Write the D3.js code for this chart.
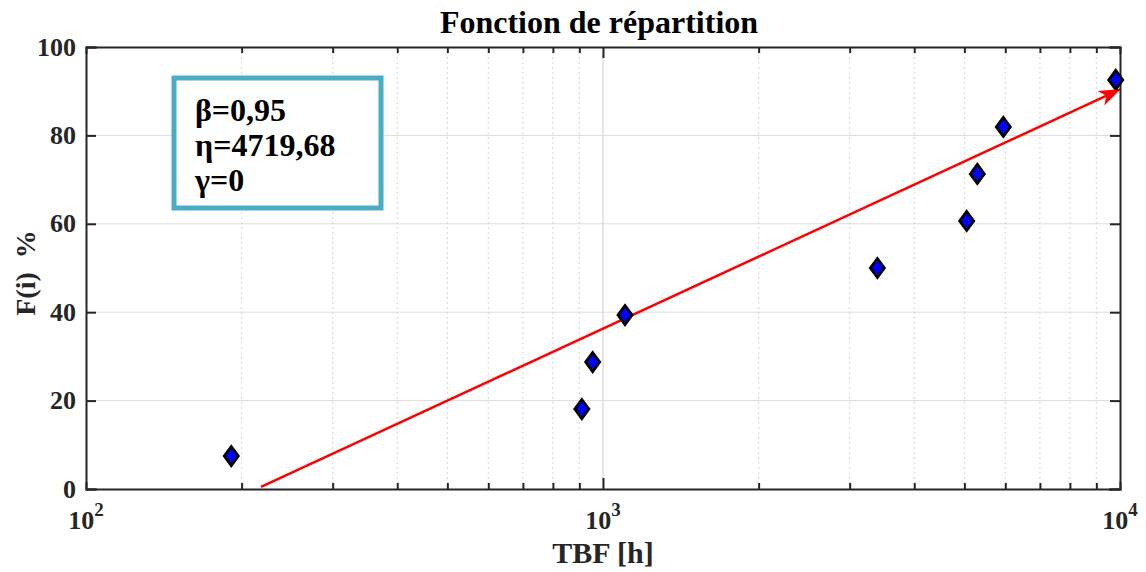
<!DOCTYPE html>
<html>
  <head>
    <meta charset="UTF-8">
    <style>
      body {
        margin: 0;
        background: white;
      }

      svg text {
        font-family: "Liberation Serif", "Times New Roman", serif;
      }

      .tick-label {
        fill: #262626;
        font-weight: bold;
        font-size: 26px;
      }

      .axis-label {
        fill: #262626;
        font-weight: bold;
        font-size: 30px;
      }

      .title {
        fill: #000;
        font-weight: bold;
        font-size: 32px;
      }

      .params text {
        fill: #000;
        font-weight: bold;
        font-size: 32px;
      }
    </style>
    <script src="https://d3js.org/d3.v7.min.js"></script>
  </head>

  <body>
    <svg id="chart"></svg>

    <script type="text/javascript">
      // TBF values [h] and F(i) in %
      let tbf = [191, 910, 955, 1103, 3394, 5052, 5297, 5948, 9811]
      let fi = [7.45, 18.09, 28.72, 39.36, 50, 60.64, 71.28, 81.91, 92.55]

      // the red arrow (start / end points)
      let fitX = [218, 10000]
      let fitY = [0.5, 90.4]

      let xDecades = [100, 1000, 10000]
      let xExponents = ['2', '3', '4']
      let yTicks = [0, 20, 40, 60, 80, 100]
      let params = ['β=0,95', 'η=4719,68', 'γ=0']

      function getChartConfig() {
        let width = 1146
        let height = 572
        let margin = { top: 47, bottom: 83, left: 86, right: 26 }
        let bodyWidth = width - margin.left - margin.right
        let bodyHeight = height - margin.top - margin.bottom

        let svg = d3.select('#chart')
          .attr('width', width)
          .attr('height', height)

        return { width, height, margin, bodyWidth, bodyHeight, svg }
      }

      function getChartScales(config) {
        let xScale = d3.scaleLog()
          .domain([100, 10000])
          .range([0, config.bodyWidth])

        let yScale = d3.scaleLinear()
          .domain([0, 100])
          .range([config.bodyHeight, 0])

        return { xScale, yScale }
      }

      function minorTicks() {
        let result = []
        for (let d = 100; d < 10000; d *= 10) {
          for (let k = 2; k <= 9; k++) result.push(k * d)
        }
        return result
      }

      function drawGrid(scales, config) {
        let g = config.svg.append('g')
          .attr('transform', `translate(${config.margin.left},${config.margin.top})`)

        g.selectAll('.minor-grid')
          .data(minorTicks())
          .enter()
          .append('line')
          .attr('x1', d => scales.xScale(d))
          .attr('x2', d => scales.xScale(d))
          .attr('y1', 0)
          .attr('y2', config.bodyHeight)
          .attr('stroke', '#d4d4d4')
          .attr('stroke-width', 1)
          .attr('stroke-dasharray', '2 3')

        g.selectAll('.major-grid')
          .data(xDecades.slice(1, -1))
          .enter()
          .append('line')
          .attr('x1', d => scales.xScale(d))
          .attr('x2', d => scales.xScale(d))
          .attr('y1', 0)
          .attr('y2', config.bodyHeight)
          .attr('stroke', '#dcdcdc')
          .attr('stroke-width', 1.5)

        g.selectAll('.y-grid')
          .data(yTicks.slice(1, -1))
          .enter()
          .append('line')
          .attr('x1', 0)
          .attr('x2', config.bodyWidth)
          .attr('y1', d => scales.yScale(d))
          .attr('y2', d => scales.yScale(d))
          .attr('stroke', '#dcdcdc')
          .attr('stroke-width', 1)
      }

      function drawAxes(scales, config) {
        let left = config.margin.left
        let top = config.margin.top
        let bottom = top + config.bodyHeight
        let right = left + config.bodyWidth

        // MATLAB style box, ticks pointing inward
        let bottomAxis = d3.axisBottom(scales.xScale)
          .tickValues(minorTicks().concat(xDecades.slice(1, -1)))
          .tickSize(-6)
          .tickFormat('')
        let gb = config.svg.append('g')
          .attr('transform', `translate(${left},${bottom})`)
          .call(bottomAxis)
        gb.selectAll('.tick line')
          .filter(d => xDecades.includes(d))
          .attr('y2', -11)

        let topAxis = d3.axisTop(scales.xScale)
          .tickValues(minorTicks().concat(xDecades.slice(1, -1)))
          .tickSize(-6)
          .tickFormat('')
        let gt = config.svg.append('g')
          .attr('transform', `translate(${left},${top})`)
          .call(topAxis)
        gt.selectAll('.tick line')
          .filter(d => xDecades.includes(d))
          .attr('y2', 11)

        let leftAxis = d3.axisLeft(scales.yScale)
          .tickValues(yTicks)
          .tickSize(-10)
          .tickFormat('')
        config.svg.append('g')
          .attr('transform', `translate(${left},${top})`)
          .call(leftAxis)

        let rightAxis = d3.axisRight(scales.yScale)
          .tickValues(yTicks)
          .tickSize(-10)
          .tickFormat('')
        config.svg.append('g')
          .attr('transform', `translate(${right},${top})`)
          .call(rightAxis)

        config.svg.selectAll('.domain, .tick line')
          .attr('stroke', '#262626')
          .attr('stroke-width', 2)
        config.svg.selectAll('.domain')
          .attr('stroke-linecap', 'square')

        // y tick labels
        config.svg.append('g')
          .selectAll('text')
          .data(yTicks)
          .enter()
          .append('text')
          .attr('class', 'tick-label')
          .attr('x', left - 10)
          .attr('y', d => top + scales.yScale(d))
          .attr('dy', '0.33em')
          .attr('text-anchor', 'end')
          .text(d => d)

        // x tick labels: 10 with superscript exponent
        let xl = config.svg.append('g')
          .selectAll('text')
          .data(xDecades)
          .enter()
          .append('text')
          .attr('class', 'tick-label')
          .attr('x', d => left + scales.xScale(d))
          .attr('y', bottom + 40)
          .attr('text-anchor', 'middle')
        xl.append('tspan').text('10')
        xl.append('tspan')
          .attr('dy', -13)
          .attr('font-size', 19)
          .text((d, i) => xExponents[i])

        config.svg.append('text')
          .attr('class', 'axis-label')
          .attr('x', left + config.bodyWidth / 2)
          .attr('y', bottom + 74)
          .attr('text-anchor', 'middle')
          .text('TBF [h]')

        config.svg.append('text')
          .attr('class', 'axis-label')
          .attr('transform', `translate(35,${top + config.bodyHeight / 2 + 5}) rotate(-90)`)
          .attr('text-anchor', 'middle')
          .style('font-size', '28px')
          .style('white-space', 'pre')
          .text('F(i)  %')

        config.svg.append('text')
          .attr('class', 'title')
          .attr('x', left + config.bodyWidth / 2 - 4)
          .attr('y', 33)
          .attr('text-anchor', 'middle')
          .text('Fonction de répartition')
      }

      function drawFit(scales, config) {
        config.svg.append('defs')
          .append('marker')
          .attr('id', 'arrow')
          .attr('viewBox', '0 0 22 16')
          .attr('refX', 21)
          .attr('refY', 8)
          .attr('markerWidth', 22)
          .attr('markerHeight', 16)
          .attr('markerUnits', 'userSpaceOnUse')
          .attr('orient', 'auto')
          .append('path')
          .attr('d', 'M0,0 L22,8 L0,16 L6,8 Z')
          .attr('fill', '#ff0000')

        let pts = fitX.map((x, i) => [x, fitY[i]])
        config.svg.append('g')
          .attr('transform', `translate(${config.margin.left},${config.margin.top})`)
          .append('path')
          .datum(pts)
          .attr('d', d3.line()
            .x(d => scales.xScale(d[0]))
            .y(d => scales.yScale(d[1])))
          .attr('fill', 'none')
          .attr('stroke', '#ff0000')
          .attr('stroke-width', 2.5)
          .attr('marker-end', 'url(#arrow)')
      }

      function drawPoints(scales, config) {
        let g = config.svg.append('g')
          .attr('transform', `translate(${config.margin.left},${config.margin.top})`)

        g.selectAll('.pt')
          .data(tbf)
          .enter()
          .append('path')
          .attr('transform', (d, i) => `translate(${scales.xScale(d)},${scales.yScale(fi[i])})`)
          .attr('d', 'M0,-9.5 L7,0 L0,9.5 L-7,0 Z')
          .attr('fill', '#0000ff')
          .attr('stroke', '#000')
          .attr('stroke-width', 2.8)
          .attr('stroke-linejoin', 'miter')
      }

      function drawParams(config) {
        let g = config.svg.append('g').attr('class', 'params')
        g.append('rect')
          .attr('x', 174)
          .attr('y', 78)
          .attr('width', 207)
          .attr('height', 130)
          .attr('fill', 'white')
          .attr('stroke', '#4bacc6')
          .attr('stroke-width', 5)

        g.selectAll('text')
          .data(params)
          .enter()
          .append('text')
          .attr('x', 195)
          .attr('y', (d, i) => 121 + i * 35)
          .text(d => d)
      }

      let config = getChartConfig()
      let scales = getChartScales(config)
      drawGrid(scales, config)
      drawFit(scales, config)
      drawAxes(scales, config)
      drawPoints(scales, config)
      drawParams(config)
    </script>
  </body>
</html>
